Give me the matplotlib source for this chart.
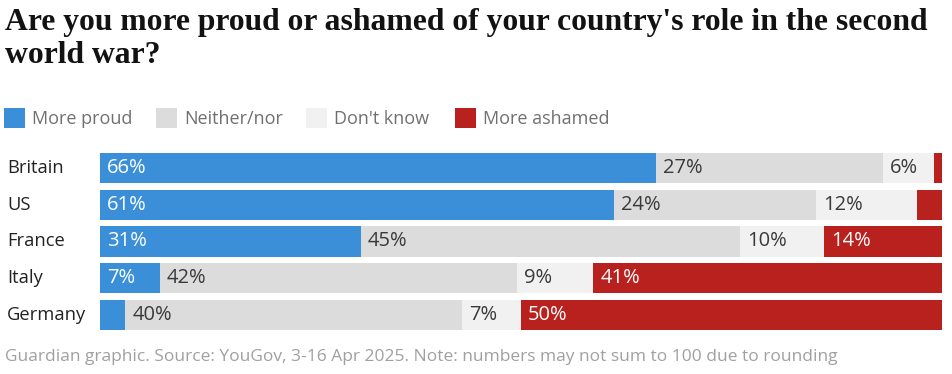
import matplotlib
matplotlib.use("Agg")
import matplotlib.pyplot as plt
from matplotlib.patches import Rectangle
import matplotlib.transforms as mtransforms

countries = ["Britain", "US", "France", "Italy", "Germany"]
series_names = ["More proud", "Neither/nor", "Don't know", "More ashamed"]
more_proud = [66, 61, 31, 7, 3]
neither_nor = [27, 24, 45, 42, 40]
dont_know = [6, 12, 10, 9, 7]
more_ashamed = [1, 3, 14, 41, 50]
# labels shown (None where the segment is too small to carry a label)
proud_labels = ["66%", "61%", "31%", "7%", None]
neither_labels = ["27%", "24%", "45%", "42%", "40%"]
dk_labels = ["6%", "12%", "10%", "9%", "7%"]
ashamed_labels = [None, None, "14%", "41%", "50%"]

colors = ["#3a8fd8", "#dcdcdc", "#f1f1f1", "#b8211d"]
text_colors = ["white", "#3a3a3a", "#3a3a3a", "white"]

title_lines = ["Are you more proud or ashamed of your country's role in the second",
               "world war?"]
footer = "Guardian graphic. Source: YouGov, 3-16 Apr 2025. Note: numbers may not sum to 100 due to rounding"

W, H = 952, 374
fig = plt.figure(figsize=(W / 100, H / 100), dpi=100)
fig.patch.set_facecolor("white")

sans = ["Open Sans", "DejaVu Sans"]

for k, line in enumerate(title_lines):
    fig.text(5 / W, 1 - (30 + 33 * k) / H, line, ha="left", va="baseline",
             fontsize=22.8, family=["Liberation Serif", "DejaVu Serif"],
             fontweight="bold", color="#121212")

# legend
leg_x = [4, 156, 306, 455]
for name, c, lx in zip(series_names, colors, leg_x):
    fig.patches.append(Rectangle((lx / W, 1 - 128 / H), 21 / W, 20 / H,
                                 transform=fig.transFigure, facecolor=c,
                                 edgecolor="none"))
    fig.text((lx + 28) / W, 1 - 119 / H, name, ha="left", va="center",
             fontsize=13, family=sans, color="#707070")

ax = fig.add_axes([100 / W, 1 - 333.4 / H, 842 / W, (333.4 - 149.6) / H])
ax.set_xlim(0, 100)
ax.set_ylim(len(countries) - 0.5, -0.5)
ax.axis("off")

series = [more_proud, neither_nor, dont_know, more_ashamed]
labels = [proud_labels, neither_labels, dk_labels, ashamed_labels]
# each row is drawn as a share of its own total (rounded values may not sum to 100)
totals = [sum(r) for r in zip(*series)]
left = [0.0] * len(countries)
offset = mtransforms.offset_copy(ax.transData, fig=fig, x=7, y=0, units="dots")
for vals, labs, c, tc in zip(series, labels, colors, text_colors):
    shares = [v / t * 100 for v, t in zip(vals, totals)]
    ax.barh(range(len(countries)), shares, left=left, height=0.82, color=c,
            edgecolor="none")
    for i, lab in enumerate(labs):
        if lab:
            ax.text(left[i], i, lab, ha="left", va="center", fontsize=14.5,
                    family=sans, color=tc, transform=offset)
    left = [l + s for l, s in zip(left, shares)]

for i, cn in enumerate(countries):
    y = ax.transData.transform((0, i))[1]
    fig.text(7 / W, y / H, cn, ha="left", va="center", fontsize=13.2,
             family=sans, color="#222222")

fig.text(5 / W, 1 - 357 / H, footer, ha="left", va="center", fontsize=12.5,
         family=sans, color="#a0a0a0")

fig.savefig("out.png", dpi=100, facecolor="white")
